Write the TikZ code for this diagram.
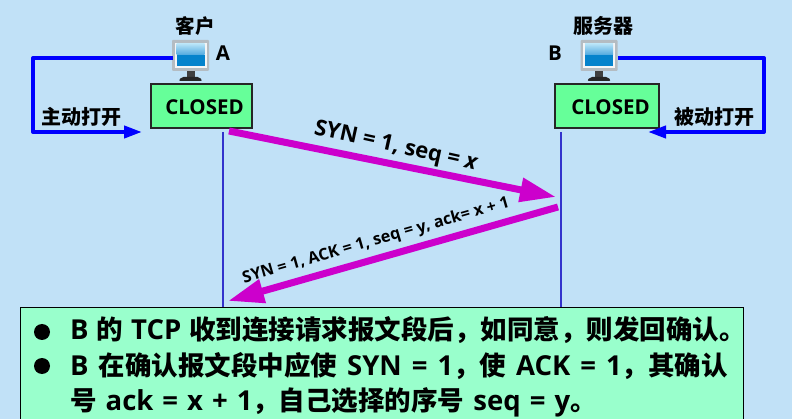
\documentclass[tikz,border=0pt]{standalone}
\usepackage{fontspec}
\setmainfont{Open Sans}
\newfontfamily\cjk{Noto Sans CJK SC}
\usetikzlibrary{arrows.meta}
\definecolor{bgblue}{HTML}{C1E1F7}
\definecolor{stategreen}{HTML}{66FF99}
\definecolor{notegreen}{HTML}{99FFCC}
\definecolor{lifeblue}{HTML}{3333CC}
\definecolor{msgpurple}{HTML}{CC00CC}
\definecolor{bezel}{HTML}{B4BCC2}
\definecolor{screenlow}{HTML}{0583CC}
\definecolor{screentop}{HTML}{B5E2F7}
\definecolor{screenmid}{HTML}{4FA8DE}
\newcommand{\C}[1]{{\cjk\fontsize{26.5}{30}\selectfont #1}}
\newcommand{\W}[1][10pt]{\hspace{#1}}
\newcommand{\monitorpic}[1]{%
  \begin{scope}[shift={(#1)}]
    \fill[rounded corners=1pt,bezel] (-18.5,-16) rectangle (18.5,15);
    \fill[white!85!bezel] (-16,-13) rectangle (16,12);
    \shade[top color=screentop,bottom color=screenmid] (-14,-12) rectangle (14,-1);
    \fill[screenlow] (-14,-1) rectangle (14,10);
    \fill[black!75] (-4,15) rectangle (4,21);
    \fill[black!85,rounded corners=2pt] (-12,25) -- (-9,21) -- (9,21) -- (12,25) -- cycle;
  \end{scope}}
\tikzset{
  statebox/.style={draw=black!85,line width=1.2pt,fill=stategreen,minimum height=44pt,inner sep=0pt},
  label/.style={font=\bfseries,inner sep=0pt,text=black},
  lifeline/.style={draw=lifeblue,line width=2pt},
  openflow/.style={draw=blue,line width=4pt,line join=round,-{Triangle[length=18pt,width=12pt]}},
  msg/.style={draw=msgpurple,line width=7pt,-{Triangle[length=36pt,width=23pt]}},
  noteline/.style={font=\fontsize{27.5}{30}\bfseries\selectfont,anchor=base west,inner sep=0pt},
  dotmark/.style={circle,fill=black,minimum size=16pt,inner sep=0pt}
}
\begin{document}
\begin{tikzpicture}[x=1pt,y=-1pt]
\useasboundingbox[fill=bgblue] (0,0) rectangle (792,419);
% lifelines
\coordinate (lAt) at (223,132); \coordinate (lAb) at (223,307);
\coordinate (lBt) at (561,132); \coordinate (lBb) at (561,307);
\draw[lifeline] (lAt) -- (lAb);
\draw[lifeline] (lBt) -- (lBb);
% monitors
\monitorpic{190.5,56}
\monitorpic{599,56}
\coordinate (monA) at (173,58);
\coordinate (monB) at (618,58);
% state boxes
\node[statebox,minimum width=101pt] (closedA) at (201.5,106) {};
\node[statebox,minimum width=104pt] (closedB) at (607,106) {};
\node[label,font=\fontsize{20.5}{24}\bfseries\selectfont] (txtA) at (204.5,107) {CLOSED};
\node[label,font=\fontsize{20.5}{24}\bfseries\selectfont] (txtB) at (610.5,107) {CLOSED};
% titles
\node[label,font=\fontsize{19.5}{22}\bfseries\cjk] (client) at (195,26) {客户};
\node[label,font=\fontsize{20}{22}\bfseries\cjk] (server) at (603,26) {服务器};
\node[label,font=\fontsize{20.5}{24}\bfseries\selectfont] (nameA) at (223,53) {A};
\node[label,font=\fontsize{20.5}{24}\bfseries\selectfont] (nameB) at (555,53) {B};
% open flows
\coordinate (cAt) at (33,58); \coordinate (cAb) at (33,132); \coordinate (endA) at (142,132);
\coordinate (cBt) at (764,58); \coordinate (cBb) at (764,132); \coordinate (endB) at (648,132);
\draw[openflow] (monA) -- (cAt) -- (cAb) -- (endA);
\draw[openflow] (monB) -- (cBt) -- (cBb) -- (endB);
\node[label,font=\fontsize{20}{24}\bfseries\cjk] (active) at (81,117) {主动打开};
\node[label,font=\fontsize{20}{24}\bfseries\cjk] (passive) at (714,117) {被动打开};
% messages
\coordinate (m1s) at (229,131); \coordinate (m1e) at (556,197);
\coordinate (m2s) at (558,207); \coordinate (m2e) at (228,301);
\draw[msg] (m1s) -- (m1e);
\draw[msg] (m2s) -- (m2e);
\node[label,font=\fontsize{22}{26}\bfseries\selectfont,rotate=-12.5] (syn1) at (396,147) {SYN = 1, seq = \textit{x}};
\node[label,font=\fontsize{16.2}{19}\bfseries\selectfont,rotate=16] (syn2) at (376,241) {SYN = 1, ACK = 1, seq = y, ack= x + 1};
% note
\node[draw=black,line width=1pt,fill=notegreen,minimum width=723pt,minimum height=120pt,inner sep=0pt,anchor=north west] (note) at (20,307) {};
\node[dotmark] (b1) at (42,332) {};
\node[dotmark] (b2) at (42,366) {};
\node[noteline] (n1) at (70,340) {B\W[8pt]\C{的}\W[8pt]TCP\W[8pt]\C{收到连接请求报文段后，如同意，则发回确认。}};
\node[noteline] (n2) at (70,375) {B\W\C{在确认报文段中应使}\W SYN\W=\W1\C{，使}\W ACK\W=\W1\C{，其确认}};
\node[noteline] (n3) at (70,410) {\C{号}\W[9pt]ack\W[9pt]=\W[9pt]x\W[9pt]+\W[9pt]1\C{，自己选择的序号}\W[9pt]seq\W[9pt]=\W[9pt]y\C{。}};
\end{tikzpicture}
\end{document}
